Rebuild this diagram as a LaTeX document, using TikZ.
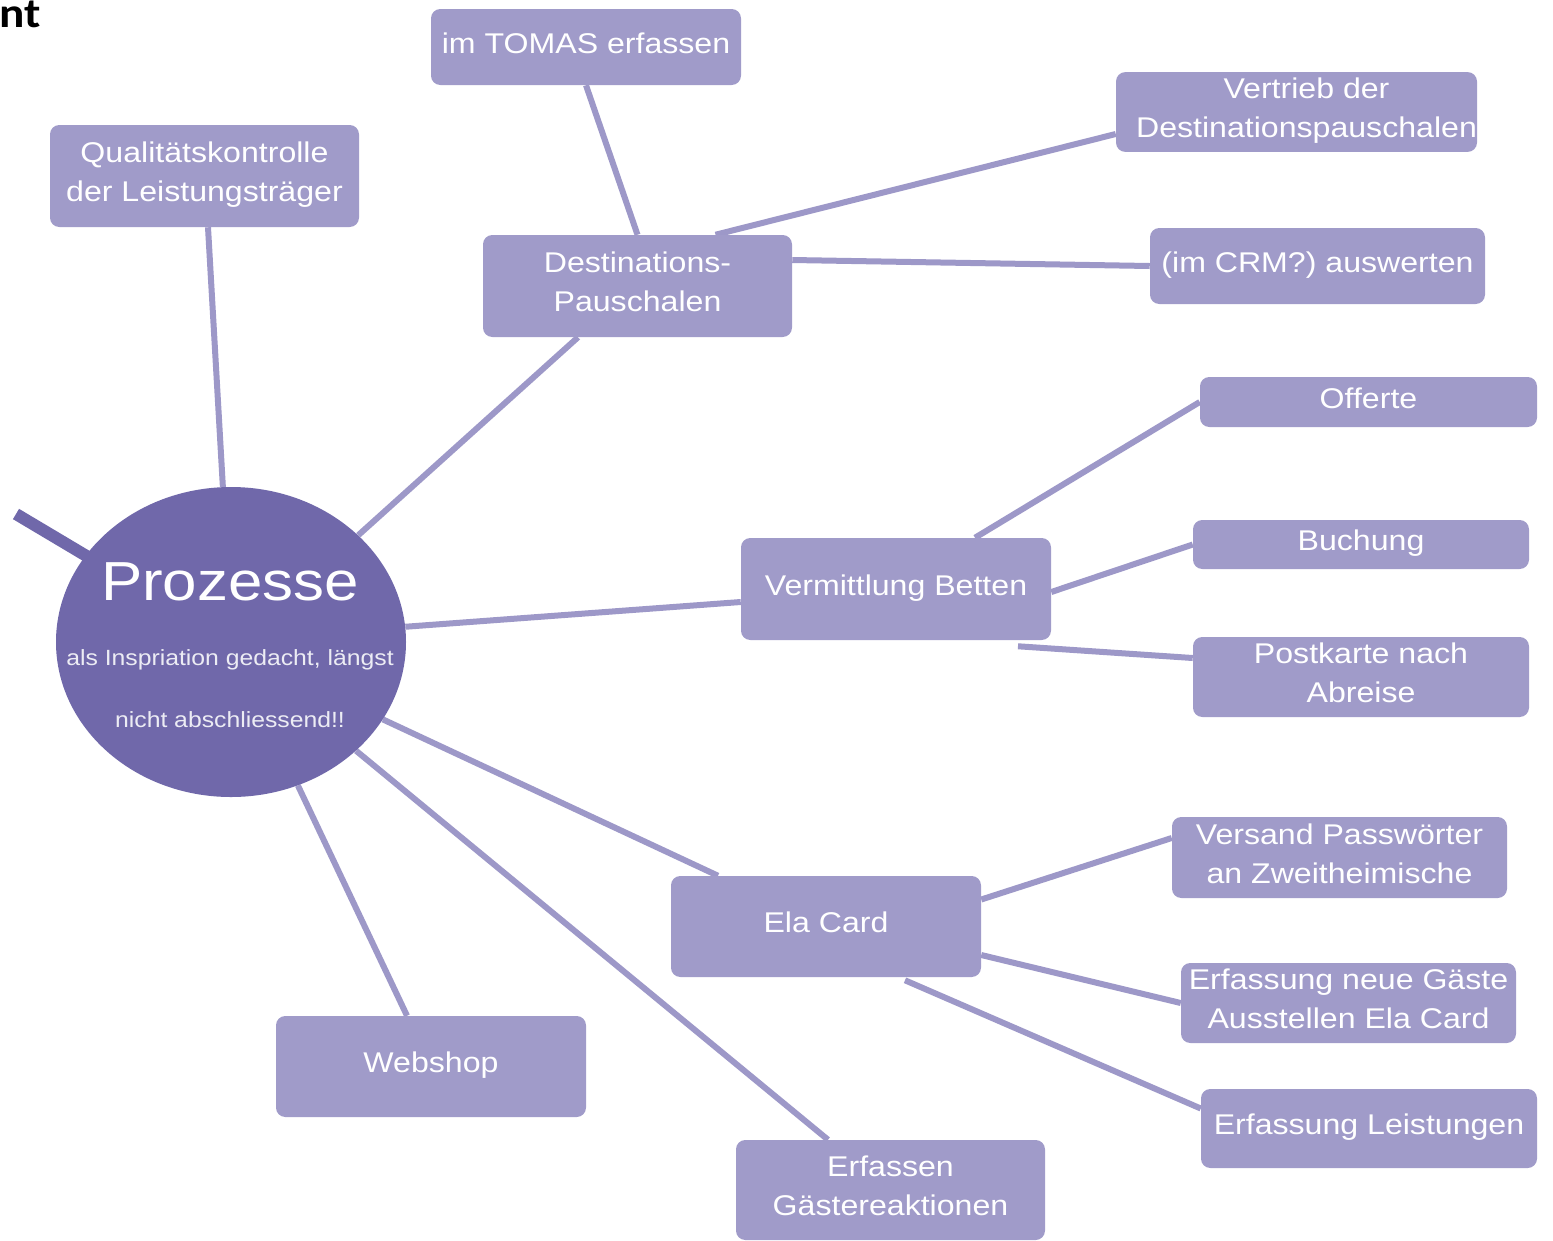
\documentclass[tikz,border=0pt]{standalone}
\usepackage{fontspec}
\setmainfont{Liberation Sans}
\newfontfamily\boxfont[FakeStretch=1.125]{Liberation Sans}
\newfontfamily\headfont[FakeStretch=1.125]{Carlito}
\usetikzlibrary{shapes.geometric,backgrounds}

% one unit of the drawing grid
\newlength\pxl \setlength\pxl{0.75pt}

\definecolor{boxc}{RGB}{160,155,201}
\definecolor{linec}{RGB}{157,152,200}
\definecolor{circc}{RGB}{112,104,170}
\definecolor{notec}{RGB}{236,236,244}

% struts that fix the height of the first and the depth of the last text line
\newcommand\topstrut{\rule{0pt}{20pt}}
\newcommand\botstrut{\rule[-10.6pt]{0pt}{10.6pt}}

\tikzset{
  box/.style={rectangle, rounded corners=7pt, fill=boxc, text=white,
    inner sep=0pt, align=center,
    font=\boxfont\fontsize{21.4pt}{29.25pt}\selectfont},
  link/.style={draw=linec, line width=4.5pt},
  lead/.style={draw=circc, line width=9pt},
}

\begin{document}
\begin{tikzpicture}[x=0.75pt,y=-0.75pt]
\useasboundingbox (0,0) rectangle (1553,1240);
\begin{scope}[on background layer]
  \fill[white] (0,0) rectangle (1553,1240);
\end{scope}

% heading fragment
\node[anchor=base east, inner sep=0pt, font=\headfont\bfseries\fontsize{31.5pt}{32pt}\selectfont] (head) at (41,27) {nt};

% central process node
\node[ellipse, fill=circc, minimum width=350\pxl, minimum height=310\pxl, inner sep=0pt] (circ) at (231,642) {};
\node[anchor=base, inner sep=0pt, text=white, font=\boxfont\fontsize{41.25pt}{45pt}\selectfont] (ptitle) at (230,600) {Prozesse};
\node[anchor=base, inner sep=0pt, text=notec, font=\boxfont\fontsize{16.5pt}{18pt}\selectfont] (pnote1) at (230,665) {als Inspriation gedacht, längst};
\node[anchor=base, inner sep=0pt, text=notec, font=\boxfont\fontsize{16.5pt}{18pt}\selectfont] (pnote2) at (230,727) {nicht abschliessend!!};

% process boxes
\node[box, minimum width=310\pxl, minimum height=76\pxl]  (tomas)  at (586,47)      {\topstrut im TOMAS erfassen\botstrut};
\node[box, minimum width=309\pxl, minimum height=102\pxl] (qual)   at (204.5,176)   {\topstrut Qualitätskontrolle\\der Leistungsträger\botstrut};
\node[box, minimum width=309\pxl, minimum height=102\pxl] (dest)   at (637.5,286)   {\topstrut Destinations-\\Pauschalen\botstrut};
\node[box, minimum width=361\pxl, minimum height=78\pxl]  (vert)   at (1296.5,112)  {\topstrut\hspace*{15pt}Vertrieb der\\\hspace*{15pt}Destinationspauschalen\botstrut};
\node[box, minimum width=335\pxl, minimum height=76\pxl]  (crm)    at (1317.5,266)  {\topstrut (im CRM?) auswerten\botstrut};
\node[box, minimum width=337\pxl, minimum height=50\pxl]  (off)    at (1368.5,402)  {\topstrut Offerte\botstrut};
\node[box, minimum width=336\pxl, minimum height=49\pxl]  (buch)   at (1361,544.5)  {\topstrut Buchung\botstrut};
\node[box, minimum width=310\pxl, minimum height=102\pxl] (verm)   at (896,589)     {\topstrut Vermittlung Betten\botstrut};
\node[box, minimum width=336\pxl, minimum height=80\pxl]  (post)   at (1361,677)    {\topstrut Postkarte nach\\Abreise\botstrut};
\node[box, minimum width=335\pxl, minimum height=81\pxl]  (vers)   at (1339.5,857.5){\topstrut Versand Passwörter\\an Zweitheimische\botstrut};
\node[box, minimum width=310\pxl, minimum height=101\pxl] (ela)    at (826,926.5)   {\topstrut Ela Card\botstrut};
\node[box, minimum width=335\pxl, minimum height=80\pxl]  (neu)    at (1348.5,1003) {\topstrut Erfassung neue Gäste\\Ausstellen Ela Card\botstrut};
\node[box, minimum width=336\pxl, minimum height=79\pxl]  (leist)  at (1369,1128.5) {\topstrut Erfassung Leistungen\botstrut};
\node[box, minimum width=310\pxl, minimum height=101\pxl] (web)    at (431,1066.5)  {\topstrut Webshop\botstrut};
\node[box, minimum width=309\pxl, minimum height=100\pxl] (gaeste) at (890.5,1190)  {\topstrut Erfassen\\Gästereaktionen\botstrut};

\coordinate (leadin) at (16,514);

% connectors, kept behind the shapes
\begin{scope}[on background layer]
  \draw[lead] (leadin) -- (circ.center);
  \draw[link] (circ.93) -- ([xshift=3.5\pxl]qual.south);
  \draw[link] (circ.40) -- ([xshift=-59.5\pxl]dest.south);
  \draw[link] (circ.5) -- ([yshift=-13\pxl]verm.west);
  \draw[link] (circ.-27) -- ([xshift=-108\pxl]ela.north);
  \draw[link] (circ.-41) -- ([xshift=-62.5\pxl]gaeste.north);
  \draw[link] (circ.-65) -- ([xshift=-24\pxl]web.north);
  \draw[link] (dest.north) -- (tomas.south);
  \draw[link] ([xshift=78\pxl]dest.north) -- ([yshift=-22\pxl]vert.west);
  \draw[link] ([yshift=26\pxl]dest.east) -- (crm.west);
  \draw[link] ([xshift=79\pxl]verm.north) -- (off.west);
  \draw[link] ([yshift=-3\pxl]verm.east) -- (buch.west);
  \draw[link] ([xshift=122\pxl,yshift=-6\pxl]verm.south) -- ([yshift=19\pxl]post.west);
  \draw[link] ([yshift=27\pxl]ela.east) -- ([yshift=19.5\pxl]vers.west);
  \draw[link] ([yshift=-28.5\pxl]ela.east) -- (neu.west);
  \draw[link] ([xshift=79\pxl,yshift=-3\pxl]ela.south) -- ([yshift=20\pxl]leist.west);
\end{scope}
\end{tikzpicture}
\end{document}
